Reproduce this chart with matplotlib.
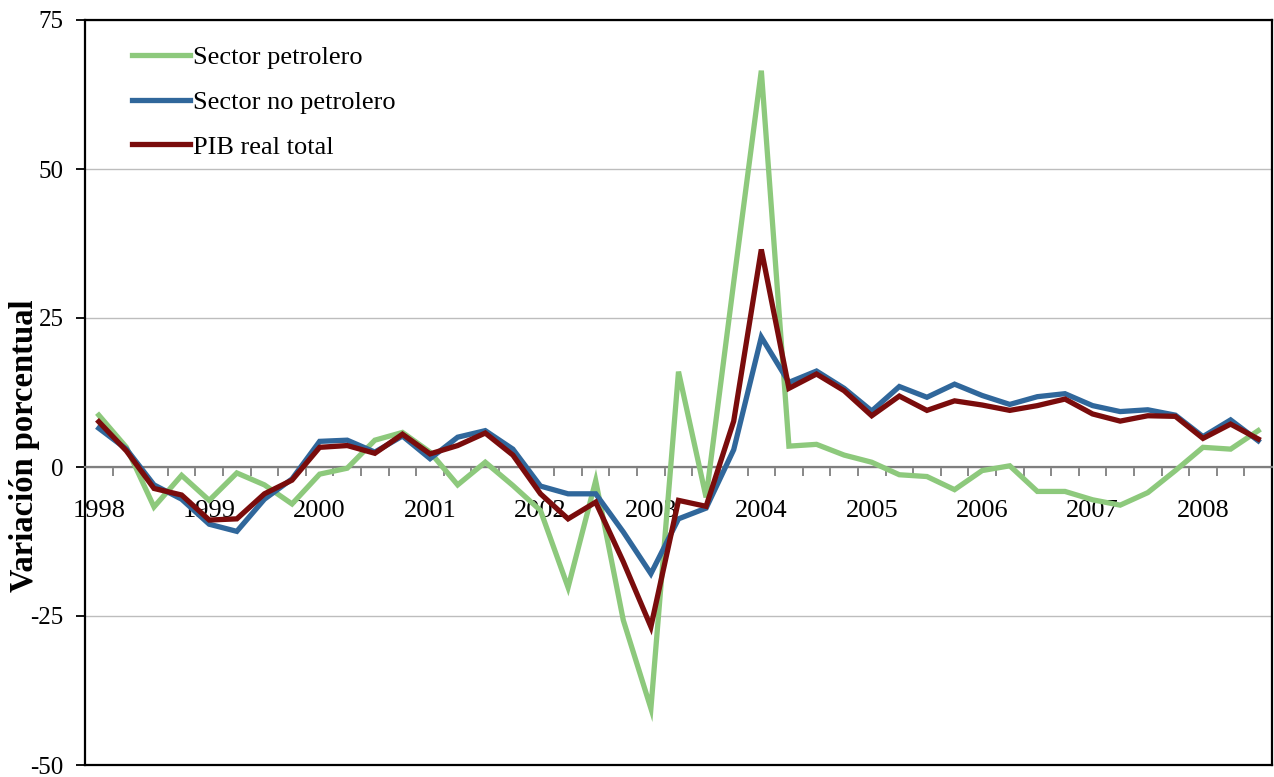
import matplotlib
matplotlib.use('Agg')
import matplotlib.pyplot as plt
import numpy as np

plt.rcParams['font.family'] = ['Liberation Serif', 'DejaVu Serif']

years = ['1998', '1999', '2000', '2001', '2002', '2003', '2004', '2005', '2006', '2007', '2008']

petrolero = [8.7, 3.3, -6.7, -1.4, -5.6, -1.0, -3.0, -6.2, -1.2, -0.2,
             4.5, 5.8, 2.5, -3.0, 0.8, -3.1, -7.3, -20.2, -2.3, -25.7,
             -40.5, 16.0, -5.1, 31.0, 66.5, 3.5, 3.8, 2.0, 0.8, -1.3,
             -1.6, -3.8, -0.6, 0.2, -4.1, -4.1, -5.5, -6.4, -4.3, -0.6,
             3.3, 3.0, 6.1]
no_petrolero = [6.5, 3.0, -3.0, -5.4, -9.6, -10.8, -5.4, -2.0, 4.3, 4.5,
                2.5, 5.2, 1.4, 5.0, 6.1, 3.0, -3.2, -4.5, -4.5, -10.9,
                -17.9, -8.7, -6.9, 2.9, 21.8, 14.2, 16.1, 13.2, 9.4, 13.5,
                11.7, 13.9, 12.0, 10.5, 11.8, 12.3, 10.3, 9.3, 9.6, 8.7,
                5.1, 7.9, 4.4]
pib_total = [7.6, 2.7, -3.6, -4.7, -8.9, -8.7, -4.5, -2.2, 3.3, 3.6,
             2.3, 5.5, 2.2, 3.6, 5.7, 2.0, -4.5, -8.7, -5.9, -15.9,
             -26.8, -5.6, -6.6, 7.7, 36.5, 13.2, 15.6, 12.8, 8.6, 11.9,
             9.5, 11.1, 10.4, 9.5, 10.3, 11.4, 8.9, 7.7, 8.6, 8.5,
             4.8, 7.2, 4.7]
series_names = ['Sector petrolero', 'Sector no petrolero', 'PIB real total']
y_ticks = [-50, -25, 0, 25, 50, 75]

n = len(petrolero)
x = np.arange(n)

fig = plt.figure(figsize=(12.74, 7.77), dpi=100)
ax = fig.add_axes([85 / 1274, 12 / 777, 1187 / 1274, 745 / 777])

lw = 3.8
ax.plot(x, petrolero, color='#8DC97C', lw=lw, label=series_names[0], solid_joinstyle='miter', zorder=3)
ax.plot(x, no_petrolero, color='#30679B', lw=lw, label=series_names[1], solid_joinstyle='miter', zorder=4)
ax.plot(x, pib_total, color='#7A0C0C', lw=lw, label=series_names[2], solid_joinstyle='miter', zorder=5)

ax.set_xlim(-0.5, n - 0.5)
ax.set_ylim(-50, 75)
ax.set_yticks(y_ticks)
ax.set_yticklabels([str(v) for v in y_ticks])
ax.grid(axis='y', color='#BDBDBD', lw=1.0, zorder=0)
ax.set_axisbelow(True)

# x axis at zero
ax.spines['bottom'].set_position(('data', 0))
ax.spines['bottom'].set_color('#7F7F7F')
ax.spines['bottom'].set_linewidth(1.6)
for s in ['left', 'top', 'right']:
    ax.spines[s].set_color('black')
    ax.spines[s].set_linewidth(1.6)
ax.axhline(-50, color='black', lw=1.6, clip_on=False, zorder=6)

ax.set_xticks(np.arange(0, n, 4))
ax.set_xticklabels(years)
ax.set_xticks(np.arange(0.5, n - 1, 1), minor=True)
ax.tick_params(axis='x', which='major', length=0, pad=24, labelsize=19)
ax.tick_params(axis='x', which='minor', direction='out', length=6.5, width=1.3, color='#7F7F7F')
ax.tick_params(axis='y', direction='out', length=6.5, width=1.3, pad=9, labelsize=18)

leg = ax.legend(loc='upper left', bbox_to_anchor=((132 - 85) / 1187, 1 - (46 - 20) / 745),
                frameon=False, fontsize=19, handlelength=2.2, handletextpad=0.1,
                labelspacing=0.8, borderpad=0, borderaxespad=0)

fig.text(25 / 1274, 1 - 446 / 777, 'Variación porcentual', rotation=90,
         ha='center', va='center', fontsize=23.5, fontweight='bold')

fig.savefig('out.png', dpi=100)
